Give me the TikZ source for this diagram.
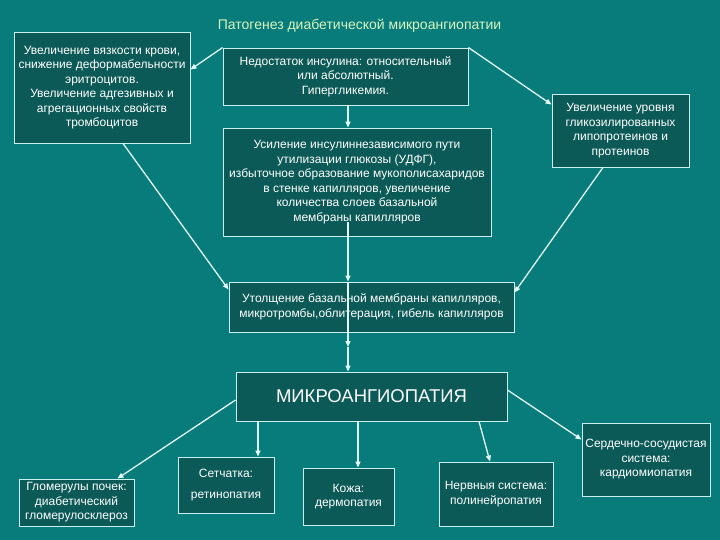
\documentclass[tikz,border=0pt]{standalone}
\usepackage{fontspec}
\setmainfont{Liberation Sans}
\usetikzlibrary{arrows.meta,calc}
\definecolor{bg}{RGB}{8,124,122}
\definecolor{boxfill}{RGB}{11,90,88}
\definecolor{edge}{RGB}{200,240,240}
\definecolor{arrowc}{RGB}{225,250,250}
\definecolor{titlec}{RGB}{215,245,190}
\begin{document}
\begin{tikzpicture}[x=1pt,y=-1pt,
  box/.style={draw=edge, line width=0.9pt, fill=boxfill, text=white, inner sep=0pt, align=center,
    font=\fontsize{12}{14.5}\selectfont},
  arr/.style={draw=arrowc, line width=1.3pt, -{Triangle[length=6pt,width=5pt]}}]
\fill[bg] (0,0) rectangle (720,540);
\useasboundingbox (0,0) rectangle (720,540);

\node[text=titlec, font=\fontsize{14}{16}\selectfont] (title) at (359.5,26) {Патогенез диабетической микроангиопатии};

\node[box, minimum width=176pt, minimum height=111pt] (A) at (102,87.5)
 {Увеличение вязкости крови,\\снижение деформабельности\\эритроцитов.\\Увеличение адгезивных и\\агрегационных свойств\\тромбоцитов};
\node[box, minimum width=245pt, minimum height=57pt] (N) at (345.5,76.5)
 {Недостаток инсулина: относительный\\или абсолютный.\\Гипергликемия.};
\node[box, minimum width=268pt, minimum height=108pt] (U) at (357,182)
 {Усиление инсулиннезависимого пути\\утилизации глюкозы (УДФГ),\\избыточное образование мукополисахаридов\\в стенке капилляров, увеличение\\количества слоев базальной\\мембраны капилляров};
\node[box, minimum width=137pt, minimum height=73pt] (R) at (620.5,130.5)
 {Увеличение уровня\\гликозилированных\\липопротеинов и\\протеинов};
\node[box, minimum width=285pt, minimum height=50pt] (T) at (371.5,307)
 {Утолщение базальной мембраны капилляров,\\микротромбы,облитерация, гибель капилляров};
\node[box, minimum width=271pt, minimum height=49pt, font=\fontsize{18.5}{20}\selectfont] (M) at (371.5,396.5)
 {МИКРОАНГИОПАТИЯ};
\node[box, minimum width=115pt, minimum height=47pt] (G) at (76.5,502.5)
 {Гломерулы почек:\\диабетический\\гломерулосклероз};
\node[box, minimum width=96pt, minimum height=56pt] (S) at (226,485)
 {Сетчатка:\\[6pt]ретинопатия};
\node[box, minimum width=91pt, minimum height=57pt] (K) at (348.5,496.5)
 {Кожа:\\дермопатия};
\node[box, minimum width=114pt, minimum height=64pt] (NS) at (496,494)
 {Нервныя система:\\полинейропатия};
\node[box, minimum width=128pt, minimum height=73pt] (C) at (646,459.5)
 {Сердечно-сосудистая\\система:\\кардиомиопатия};

\coordinate (sp) at (348,0);
\coordinate (mid) at (348,347);

\draw[arr] (N.north west) -- ($(A.north east)+(0,38)$);
\draw[arr] (N.north east) -- ($(R.north west)+(0,11)$);
\draw[arr] (sp |- N.south) -- (sp |- U.north);
\draw[arr] ($(sp |- U.south)+(0,-14)$) -- (sp |- T.north);
\draw[arr] (sp |- T.north) -- (mid);
\draw[arr] (mid) -- (sp |- M.north);
\draw[arr] ($(A.south)+(21,0)$) -- ($(T.north west)+(0,8)$);
\draw[arr] ($(R.south)+(-17.5,0)$) -- ($(T.north east)+(0,11)$);
\draw[arr] ($(M.west)+(0,3.5)$) -- ($(G.north east)+(-17,0)$);
\draw[arr] ($(M.south)+(-113.5,0)$) -- ($(S.north)+(32,0)$);
\draw[arr] ($(M.south)+(-13.5,0)$) -- ($(K.north)+(9.5,0)$);
\draw[arr] ($(M.south)+(107.5,0)$) -- ($(NS.north)+(-6,0)$);
\draw[arr] ($(M.east)+(0,-6.5)$) -- ($(C.north west)+(0,17)$);
\end{tikzpicture}
\end{document}
